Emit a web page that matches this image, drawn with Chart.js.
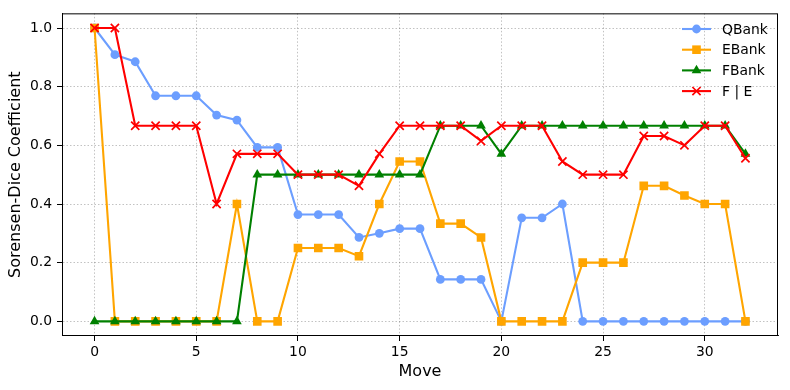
<!DOCTYPE html>
<html>
<head>
<meta charset="utf-8">
<script src="https://cdn.jsdelivr.net/npm/chart.js@4.4.1/dist/chart.umd.min.js"></script>
<style>
  body { margin: 0; background: #fff; }
  #wrap { width: 790px; height: 390px; }
</style>
</head>
<body>
<div id="wrap"><canvas id="chart" width="790" height="390"></canvas></div>
<script>
// du lieu doc tu hinh
const moves = [0, 1, 2, 3, 4, 5, 6, 7, 8, 9, 10, 11, 12, 13, 14, 15, 16,
               17, 18, 19, 20, 21, 22, 23, 24, 25, 26, 27, 28, 29, 30, 31, 32];

const qbank = [1.0, 0.909, 0.885, 0.769, 0.769, 0.769, 0.703, 0.686, 0.593, 0.593,
               0.364, 0.364, 0.364, 0.286, 0.300, 0.316, 0.316, 0.143, 0.143, 0.143,
               0.0, 0.353, 0.353, 0.400, 0, 0, 0, 0, 0, 0, 0, 0, 0];

const ebank = [1.0, 0, 0, 0, 0, 0, 0, 0.400, 0, 0,
               0.250, 0.250, 0.250, 0.222, 0.400, 0.545, 0.545, 0.333, 0.333, 0.286,
               0, 0, 0, 0, 0.200, 0.200, 0.200, 0.462, 0.462, 0.429, 0.400, 0.400, 0];

const fbank = [0, 0, 0, 0, 0, 0, 0, 0, 0.5, 0.5,
               0.5, 0.5, 0.5, 0.5, 0.5, 0.5, 0.5, 0.667, 0.667, 0.667,
               0.571, 0.667, 0.667, 0.667, 0.667, 0.667, 0.667, 0.667, 0.667, 0.667, 0.667, 0.667, 0.571];

const fe = [1.0, 1.0, 0.667, 0.667, 0.667, 0.667, 0.400, 0.571, 0.571, 0.571,
            0.5, 0.5, 0.5, 0.462, 0.571, 0.667, 0.667, 0.667, 0.667, 0.615,
            0.667, 0.667, 0.667, 0.545, 0.5, 0.5, 0.5, 0.632, 0.632, 0.600, 0.667, 0.667, 0.556];

const xTicks = [0, 5, 10, 15, 20, 25, 30];
const yTicks = [0.0, 0.2, 0.4, 0.6, 0.8, 1.0];

const FONT = 'DejaVu Sans';

// ghep x va y thanh diem
function toPoints(values) {
    return values.map((v, i) => ({ x: moves[i], y: v }));
}

function makeSet(label, values, color, style, radius, order) {
    return {
        label: label,
        data: toPoints(values),
        borderColor: color,
        backgroundColor: color,
        pointBackgroundColor: color,
        pointBorderColor: color,
        pointStyle: style,
        pointRadius: radius,
        pointHoverRadius: radius,
        pointBorderWidth: style === 'crossRot' ? 1.7 : 0,
        borderWidth: 2.1,
        tension: 0,
        order: order
    };
}

// legend kieu matplotlib: doan thang + marker + chu
const mplLegend = {
    id: 'mplLegend',
    afterDatasetsDraw(chart) {
        const ctx = chart.ctx;
        const right = chart.chartArea.right;
        const x0 = right - 96, x1 = right - 67, xt = right - 56;
        chart.data.datasets.forEach((ds, i) => {
            const y = 29 + i * 20.7;
            ctx.save();
            ctx.strokeStyle = ds.borderColor;
            ctx.lineWidth = ds.borderWidth;
            ctx.beginPath();
            ctx.moveTo(x0, y);
            ctx.lineTo(x1, y);
            ctx.stroke();
            ctx.fillStyle = ds.pointBackgroundColor;
            ctx.lineWidth = ds.pointBorderWidth;
            Chart.helpers.drawPoint(ctx, {
                pointStyle: ds.pointStyle,
                radius: ds.pointRadius,
                rotation: 0,
                borderWidth: ds.pointBorderWidth
            }, (x0 + x1) / 2, y);
            ctx.fillStyle = '#000';
            ctx.font = '13.9px "' + FONT + '"';
            ctx.textBaseline = 'middle';
            ctx.textAlign = 'left';
            ctx.fillText(ds.label, xt, y + 1);
            ctx.restore();
        });
    }
};

// vien tren va phai cua khung
const frame = {
    id: 'frame',
    afterDraw(chart) {
        const a = chart.chartArea;
        const ctx = chart.ctx;
        ctx.save();
        ctx.strokeStyle = '#000';
        ctx.lineWidth = 1;
        ctx.strokeRect(a.left + 0.5, a.top + 0.5, a.right - a.left - 1, a.bottom - a.top - 1);
        ctx.restore();
    }
};

const gridOpts = {
    color: 'rgba(0,0,0,0.3)',
    lineWidth: 0.8,
    tickColor: '#000',
    tickLength: 5,
    tickWidth: 1,
    tickBorderDash: []
};

const config = {
    type: 'line',
    data: {
        datasets: [
            makeSet('QBank', qbank, '#6c9eff', 'circle', 4.4, 4),
            makeSet('EBank', ebank, 'orange', 'rect', 6.1, 3),
            makeSet('FBank', fbank, 'green', 'triangle', 5.6, 2),
            makeSet('F | E', fe, 'red', 'crossRot', 5.8, 1)
        ]
    },
    options: {
        responsive: false,
        animation: false,
        layout: { padding: { top: 10, right: 12, left: 0, bottom: 0 } },
        plugins: {
            legend: { display: false },
            tooltip: { enabled: false }
        },
        scales: {
            x: {
                type: 'linear',
                min: -1.6,
                max: 33.6,
                afterBuildTicks: s => { s.ticks = xTicks.map(v => ({ value: v })); },
                afterFit: s => { s.height = 54; },
                grid: gridOpts,
                border: { display: true, color: '#000', width: 1, dash: [1.5, 2] },
                ticks: {
                    color: '#000',
                    padding: 3,
                    maxRotation: 0,
                    font: { family: FONT, size: 13.9 },
                    callback: v => String(v)
                },
                title: {
                    display: true,
                    text: 'Move',
                    color: '#000',
                    font: { family: FONT, size: 16, lineHeight: 1 },
                    padding: { top: 0, bottom: 10 }
                }
            },
            y: {
                min: -0.05,
                max: 1.05,
                afterBuildTicks: s => { s.ticks = yTicks.map(v => ({ value: v })); },
                afterFit: s => { s.width = 62; },
                grid: gridOpts,
                border: { display: true, color: '#000', width: 1, dash: [1.5, 2] },
                ticks: {
                    color: '#000',
                    padding: 5,
                    font: { family: FONT, size: 13.9 },
                    callback: v => Number(v).toFixed(1)
                },
                title: {
                    display: true,
                    text: 'Sorensen-Dice Coefficient',
                    color: '#000',
                    font: { family: FONT, size: 16, lineHeight: 1 },
                    padding: { top: 8, bottom: 0 }
                }
            }
        }
    },
    plugins: [mplLegend, frame]
};

new Chart(document.getElementById('chart').getContext('2d'), config);
</script>
</body>
</html>
